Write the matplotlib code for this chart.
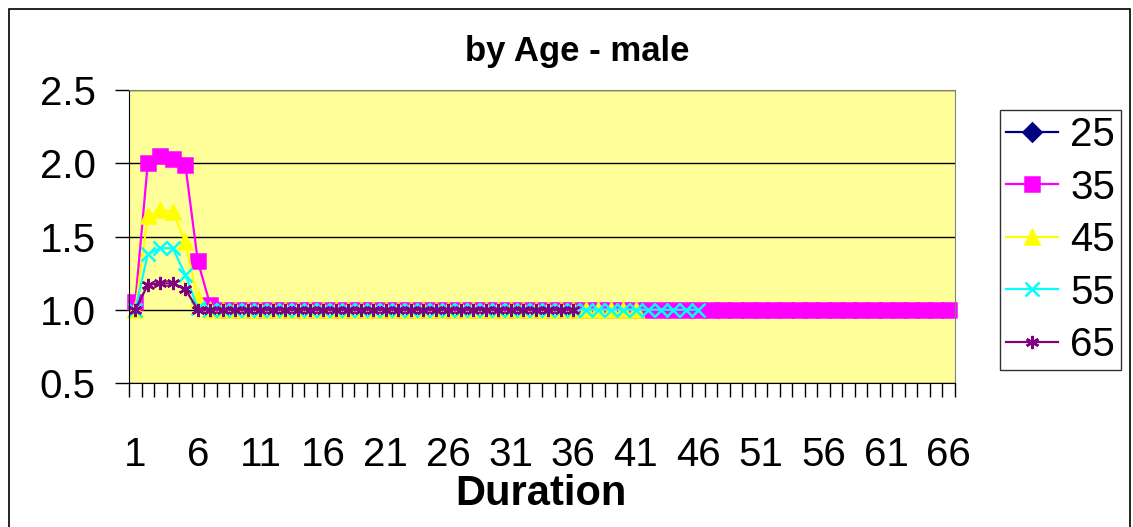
import numpy as np
import matplotlib
matplotlib.use("Agg")
from matplotlib import pyplot as plt
from matplotlib.patches import Rectangle

plt.rcParams['font.family'] = ['Liberation Sans', 'DejaVu Sans']

ages = ["25", "35", "45", "55", "65"]
colors = ["#000080", "#FF00FF", "#FFFF00", "#00FFFF", "#800080"]
markers = ["D", "s", "^", "x", (6, 2, 0)]

age25 = []
age35 = [1.05, 2.00, 2.05, 2.03, 1.99, 1.33, 1.03, 1.0, 1.0, 1.0,
         1.0, 1.0, 1.0, 1.0, 1.0, 1.0, 1.0, 1.0, 1.0, 1.0,
         1.0, 1.0, 1.0, 1.0, 1.0, 1.0, 1.0, 1.0, 1.0, 1.0,
         1.0, 1.0, 1.0, 1.0, 1.0, 1.0, 1.0, 1.0, 1.0, 1.0,
         1.0, 1.0, 1.0, 1.0, 1.0, 1.0, 1.0, 1.0, 1.0, 1.0,
         1.0, 1.0, 1.0, 1.0, 1.0, 1.0, 1.0, 1.0, 1.0, 1.0,
         1.0, 1.0, 1.0, 1.0, 1.0, 1.0]
age45 = [1.0, 1.64, 1.68, 1.67, 1.46, 1.07, 1.0, 1.0, 1.0, 1.0,
         1.0, 1.0, 1.0, 1.0, 1.0, 1.0, 1.0, 1.0, 1.0, 1.0,
         1.0, 1.0, 1.0, 1.0, 1.0, 1.0, 1.0, 1.0, 1.0, 1.0,
         1.0, 1.0, 1.0, 1.0, 1.0, 1.0, 1.0, 1.0, 1.0, 1.0,
         1.0]
age55 = [1.0, 1.38, 1.42, 1.42, 1.24, 1.01, 1.0, 1.0, 1.0, 1.0,
         1.0, 1.0, 1.0, 1.0, 1.0, 1.0, 1.0, 1.0, 1.0, 1.0,
         1.0, 1.0, 1.0, 1.0, 1.0, 1.0, 1.0, 1.0, 1.0, 1.0,
         1.0, 1.0, 1.0, 1.0, 1.0, 1.0, 1.0, 1.0, 1.0, 1.0,
         1.0, 1.0, 1.0, 1.0, 1.0, 1.0]
age65 = [1.0, 1.17, 1.18, 1.18, 1.14, 1.0, 1.0, 1.0, 1.0, 1.0,
         1.0, 1.0, 1.0, 1.0, 1.0, 1.0, 1.0, 1.0, 1.0, 1.0,
         1.0, 1.0, 1.0, 1.0, 1.0, 1.0, 1.0, 1.0, 1.0, 1.0,
         1.0, 1.0, 1.0, 1.0, 1.0, 1.0]
series = [age25, age35, age45, age55, age65]

n_dur = 66
x_labels = [str(i) for i in range(1, n_dur + 1, 5)]


def main():
    W, H = 1133, 527
    fig = plt.figure(figsize=(W / 100, H / 100), dpi=100)
    ax = fig.add_axes([129 / W, 1 - 383 / H, (955 - 129) / W, (383 - 90) / H])
    ax.set_facecolor("#FFFF99")

    for lab, vals, c, m in zip(ages, series, colors, markers):
        xs = np.arange(1, len(vals) + 1)
        ms = 10 if m == "s" else 9.5
        ax.plot(xs, vals, color=c, marker=m, markersize=ms, linewidth=1.6,
                markeredgewidth=1.8, label=lab, clip_on=False)

    ax.set_xlim(0.5, n_dur + 0.5)
    ax.set_ylim(0.5, 2.5)
    ax.set_yticks([0.5, 1.0, 1.5, 2.0, 2.5])
    ax.set_yticklabels(["0.5", "1.0", "1.5", "2.0", "2.5"])
    ax.set_xticks(range(1, n_dur + 1, 5))
    ax.set_xticklabels(x_labels)
    ax.set_xticks(np.arange(0.5, n_dur + 1, 1), minor=True)
    ax.tick_params(axis="x", which="major", length=0, pad=38, labelsize=29)
    ax.tick_params(axis="x", which="minor", length=10, width=1, direction="out")
    ax.tick_params(axis="y", which="major", length=10, width=1, direction="out",
                   pad=14, labelsize=29)
    ax.grid(axis="y", color="black", linewidth=1)
    ax.set_axisbelow(True)
    for s in ["top", "right"]:
        ax.spines[s].set_color("#808080")
    for s in ["left", "bottom"]:
        ax.spines[s].set_color("black")

    fig.text(577 / W, 1 - 52 / H, "by Age - male", ha="center", va="center",
             fontsize=25, fontweight="bold")
    fig.text(541 / W, 1 - 494 / H, "Duration", ha="center", va="center",
             fontsize=30, fontweight="bold")

    leg = fig.legend(loc="upper left", bbox_to_anchor=(1000 / W, 1 - 110 / H),
                     fontsize=29, frameon=True, fancybox=False, edgecolor="black",
                     handlelength=1.3, handletextpad=0.3, labelspacing=0.36,
                     borderpad=0.15, borderaxespad=0)
    leg.get_frame().set_linewidth(1)

    fig.patches.append(Rectangle((9 / W, -2 / H), (1130 - 9) / W, (527 - 7) / H,
                                 transform=fig.transFigure, fill=False,
                                 edgecolor="black", linewidth=1.2))

    fig.savefig("out.png", dpi=100)


if __name__ == "__main__":
    main()
